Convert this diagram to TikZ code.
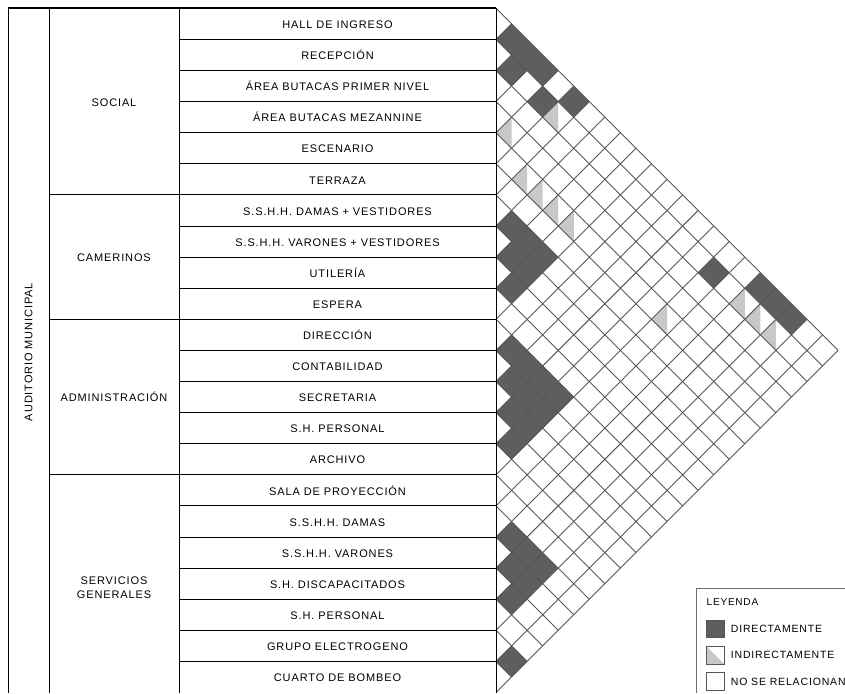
\documentclass[tikz,border=0pt]{standalone}
\usepackage{fontspec}
\setmainfont{Liberation Sans}[LetterSpace=8]
\usetikzlibrary{positioning}
\definecolor{amGrid}{HTML}{575757}
\definecolor{amDark}{HTML}{5E5E5E}
\definecolor{amLight}{HTML}{C8C8C8}
\definecolor{amFrame}{HTML}{6E6E6E}
\def\amXo{496}
\def\amYt{8.3}
\def\amH{31.1}
\def\amHh{15.55}
\tikzset{
  am diagram/.style={font=\fontsize{11}{13}\selectfont, text=black},
  am frame/.style={draw=black, line width=1pt},
  am grid/.style={draw=amGrid, line width=0.9pt},
  am direct/.style={fill=amDark},
  am indirect/.style={fill=amLight},
  am item/.style={inner sep=0pt, anchor=base},
  am key/.style={font=\fontsize{10.5}{12}\selectfont, inner sep=0pt, anchor=west},
  am swatch/.style={draw=amGrid, line width=0.8pt, fill=white,
    minimum size=17.5pt, inner sep=0pt}
}
\begin{document}
\begin{tikzpicture}[am diagram,x=1pt,y=-1pt]
\useasboundingbox (0,0) rectangle (845,693);
% relationship cells
\foreach \i/\j in {0/1,0/2,1/2,0/3,1/4,0/5,6/7,6/8,7/8,6/9,7/9,8/9,
    10/11,10/12,11/12,10/13,11/13,12/13,10/14,11/14,12/14,13/14,
    16/17,16/18,17/18,16/19,17/19,18/19,20/21,1/15,0/17,0/18,0/19}
  \fill[am direct] ({\amXo+(\j-\i-1)*\amHh},{\amYt+(\i+\j+1)*\amHh})
    -- ++(\amHh,-\amHh) -- ++(\amHh,\amHh) -- ++(-\amHh,\amHh) -- cycle;
\foreach \i/\j in {3/4,1/5,4/6,4/7,4/8,4/9,4/15,1/17,1/18,1/19}
  \fill[am indirect] ({\amXo+(\j-\i-1)*\amHh},{\amYt+(\i+\j+1)*\amHh})
    -- ++(\amHh,-\amHh) -- ++(0,\amH) -- cycle;
% diagonal grid
\foreach \k in {0,...,21}
  \draw[am grid] (\amXo,{\amYt+\k*\amH}) -- ++({(22-\k)*\amHh},{(22-\k)*\amHh});
\foreach \m in {1,...,22}
  \draw[am grid] (\amXo,{\amYt+\m*\amH}) -- ++({\m*\amHh},{-\m*\amHh});
% table
\draw[am frame] (8.3,693) -- (8.3,8.3) -- (\amXo,8.3) -- (\amXo,693);
\draw[am frame,line width=1.6pt] (8.3,8.3) -- (\amXo,8.3);
\draw[am frame] (49.3,8.3) -- (49.3,693);
\draw[am frame] (179,8.3) -- (179,693);
\foreach \r in {1,...,21}
  \draw[am frame] (179,{\amYt+\r*\amH}) -- (\amXo,{\amYt+\r*\amH});
\foreach \r in {6,10,15}
  \draw[am frame] (49.3,{\amYt+\r*\amH}) -- (179,{\amYt+\r*\amH});
% labels
\foreach \r/\txt in {0/HALL DE INGRESO,1/RECEPCIÓN,2/ÁREA BUTACAS PRIMER NIVEL,
    3/ÁREA BUTACAS MEZANNINE,4/ESCENARIO,5/TERRAZA,
    6/S.S.H.H. DAMAS + VESTIDORES,7/S.S.H.H. VARONES + VESTIDORES,
    8/UTILERÍA,9/ESPERA,10/DIRECCIÓN,11/CONTABILIDAD,12/SECRETARIA,
    13/S.H. PERSONAL,14/ARCHIVO,15/SALA DE PROYECCIÓN,16/S.S.H.H. DAMAS,
    17/S.S.H.H. VARONES,18/S.H. DISCAPACITADOS,19/S.H. PERSONAL,
    20/GRUPO ELECTROGENO,21/CUARTO DE BOMBEO}
  \node[am item] (row\r) at (337.5,{\amYt+(\r+0.5)*\amH+4.7}) {\txt};
\node[am item] (gSocial) at (114,{\amYt+3*\amH+4.4}) {SOCIAL};
\node[am item] (gCamerinos) at (114,{\amYt+8*\amH+4.4}) {CAMERINOS};
\node[am item] (gAdmin) at (114,{\amYt+12.5*\amH+4.4}) {ADMINISTRACIÓN};
\node[inner sep=0pt,align=center,font=\fontsize{11}{14.5}\selectfont]
  (gServicios) at (114,587.5) {SERVICIOS\\GENERALES};
\node[am item,rotate=90] (auditorio) at (32.3,352) {AUDITORIO MUNICIPAL};
% legend
\draw[draw=amFrame,line width=0.8pt] (696,693) -- (696,588) -- (845,588);
\node[am key,anchor=base west,font=\fontsize{10}{12}\selectfont] (leyenda) at (706.5,605.8) {LEYENDA};
\node[am swatch,fill=amDark] (keyDirect) at (715.5,629) {};
\node[am swatch,path picture={\fill[amLight] (path picture bounding box.north west)
    -- (path picture bounding box.south west) -- (path picture bounding box.south east) -- cycle;}]
  (keyIndirect) at (715.5,655.3) {};
\node[am swatch] (keyNone) at (715.5,681.6) {};
\node[am key,right=6pt of keyDirect] (txtDirect) {DIRECTAMENTE};
\node[am key,right=6pt of keyIndirect] (txtIndirect) {INDIRECTAMENTE};
\node[am key,right=6pt of keyNone] (txtNone) {NO SE RELACIONAN};
\end{tikzpicture}
\end{document}
